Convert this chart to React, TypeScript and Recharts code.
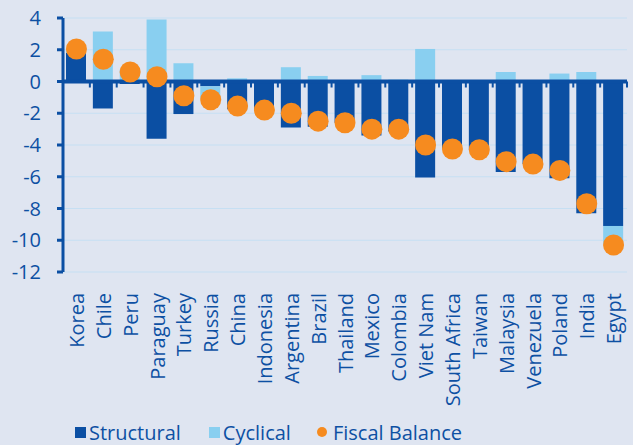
import React from "react";
import {
  ComposedChart,
  Bar,
  Scatter,
  XAxis,
  YAxis,
  CartesianGrid,
  ReferenceLine,
  Legend,
} from "recharts";

const categories = [
  "Korea", "Chile", "Peru", "Paraguay", "Turkey", "Russia", "China",
  "Indonesia", "Argentina", "Brazil", "Thailand", "Mexico", "Colombia",
  "Viet Nam", "South Africa", "Taiwan", "Malaysia", "Venezuela", "Poland",
  "India", "Egypt",
];
const structural = [
  1.8, -1.7, -0.15, -3.6, -2.05, -0.3, -1.75, -1.85, -2.9, -2.85, -2.6,
  -3.4, -3.15, -6.05, -4.25, -4.3, -5.7, -5.2, -6.1, -8.3, -9.1,
];
const cyclical = [
  0.25, 3.15, 0.75, 3.9, 1.15, -0.8, 0.2, 0, 0.9, 0.35, 0, 0.4, 0.12, 2.05,
  0, 0, 0.6, 0, 0.5, 0.6, -1.15,
];
const fiscal = [
  2.05, 1.4, 0.6, 0.3, -0.9, -1.15, -1.55, -1.8, -2.0, -2.5, -2.6, -3.0,
  -3.0, -4.0, -4.25, -4.3, -5.05, -5.2, -5.6, -7.7, -10.3,
];
const yTicks = [-12, -10, -8, -6, -4, -2, 0, 2, 4];

const DARK = "#0b4fa3";
const LIGHT = "#89cff0";
const ORANGE = "#f68b1f";
const TEXT = "#0d50a3";
const BG = "#dfe5f1";
const FONT = "'Open Sans', sans-serif";
const FS = 20;

const data = categories.map((name, i) => ({
  name,
  structural: structural[i],
  cyclical: cyclical[i],
  fiscal: fiscal[i],
}));

function CountryTick(props: any) {
  const { x, y, payload } = props;
  return (
    <text
      x={x}
      y={y}
      transform={`rotate(-90 ${x} ${y})`}
      textAnchor="end"
      dominantBaseline="central"
      fill={TEXT}
      fontSize={FS}
      fontFamily={FONT}
    >
      {payload.value}
    </text>
  );
}

// zero line with small ticks at category boundaries
function ZeroLine(props: any) {
  const { x1, y1, x2 } = props;
  const step = (x2 - x1) / categories.length;
  const marks = [];
  for (let k = 1; k <= categories.length; k++) {
    const x = x1 + k * step;
    marks.push(
      <line key={k} x1={x} x2={x} y1={y1} y2={y1 + 6} stroke={DARK} strokeWidth={2} />
    );
  }
  return (
    <g>
      <line x1={x1} x2={x2} y1={y1} y2={y1} stroke={DARK} strokeWidth={4} />
      {marks}
    </g>
  );
}

function Dot(props: any) {
  const { cx, cy } = props;
  return <circle cx={cx} cy={cy} r={10.5} fill={ORANGE} />;
}

function LegendContent() {
  const item = { display: "flex", alignItems: "center" } as const;
  return (
    <div
      style={{
        display: "flex",
        alignItems: "center",
        height: 26,
        paddingLeft: 75,
        fontFamily: FONT,
        fontSize: FS,
        color: TEXT,
      }}
    >
      <div style={item}>
        <span style={{ width: 11, height: 11, background: DARK, marginRight: 3 }} />
        Structural
      </div>
      <div style={{ ...item, marginLeft: 28 }}>
        <span style={{ width: 11, height: 11, background: LIGHT, marginRight: 3 }} />
        Cyclical
      </div>
      <div style={{ ...item, marginLeft: 26 }}>
        <span
          style={{ width: 10, height: 10, borderRadius: 5, background: ORANGE, marginRight: 6 }}
        />
        Fiscal Balance
      </div>
    </div>
  );
}

export default function App() {
  return (
    <div
      style={{
        position: "absolute",
        left: 0,
        top: 0,
        width: 633,
        height: 445,
        background: BG,
      }}
    >
      <ComposedChart
        width={633}
        height={445}
        data={data}
        stackOffset="sign"
        margin={{ top: 18, right: 6, left: 0, bottom: 0 }}
      >
        <CartesianGrid vertical={false} stroke="#c6dff3" strokeWidth={1.2} />
        <XAxis
          dataKey="name"
          interval={0}
          axisLine={false}
          tickLine={false}
          tickSize={6}
          tickMargin={15}
          height={147}
          tick={<CountryTick />}
        />
        <YAxis
          domain={[-12, 4]}
          ticks={yTicks}
          width={63}
          axisLine={{ stroke: DARK, strokeWidth: 3 }}
          tickLine={{ stroke: DARK, strokeWidth: 3 }}
          tickSize={6}
          tickMargin={16}
          tick={{ fill: TEXT, fontSize: FS, fontFamily: FONT }}
        />
        <Bar dataKey="structural" stackId="a" fill={DARK} barSize={20} isAnimationActive={false} />
        <Bar dataKey="cyclical" stackId="a" fill={LIGHT} barSize={20} isAnimationActive={false} />
        <ReferenceLine y={0} shape={<ZeroLine />} />
        <Scatter dataKey="fiscal" shape={<Dot />} isAnimationActive={false} />
        <Legend verticalAlign="bottom" align="left" height={26} content={<LegendContent />} />
      </ComposedChart>
    </div>
  );
}
